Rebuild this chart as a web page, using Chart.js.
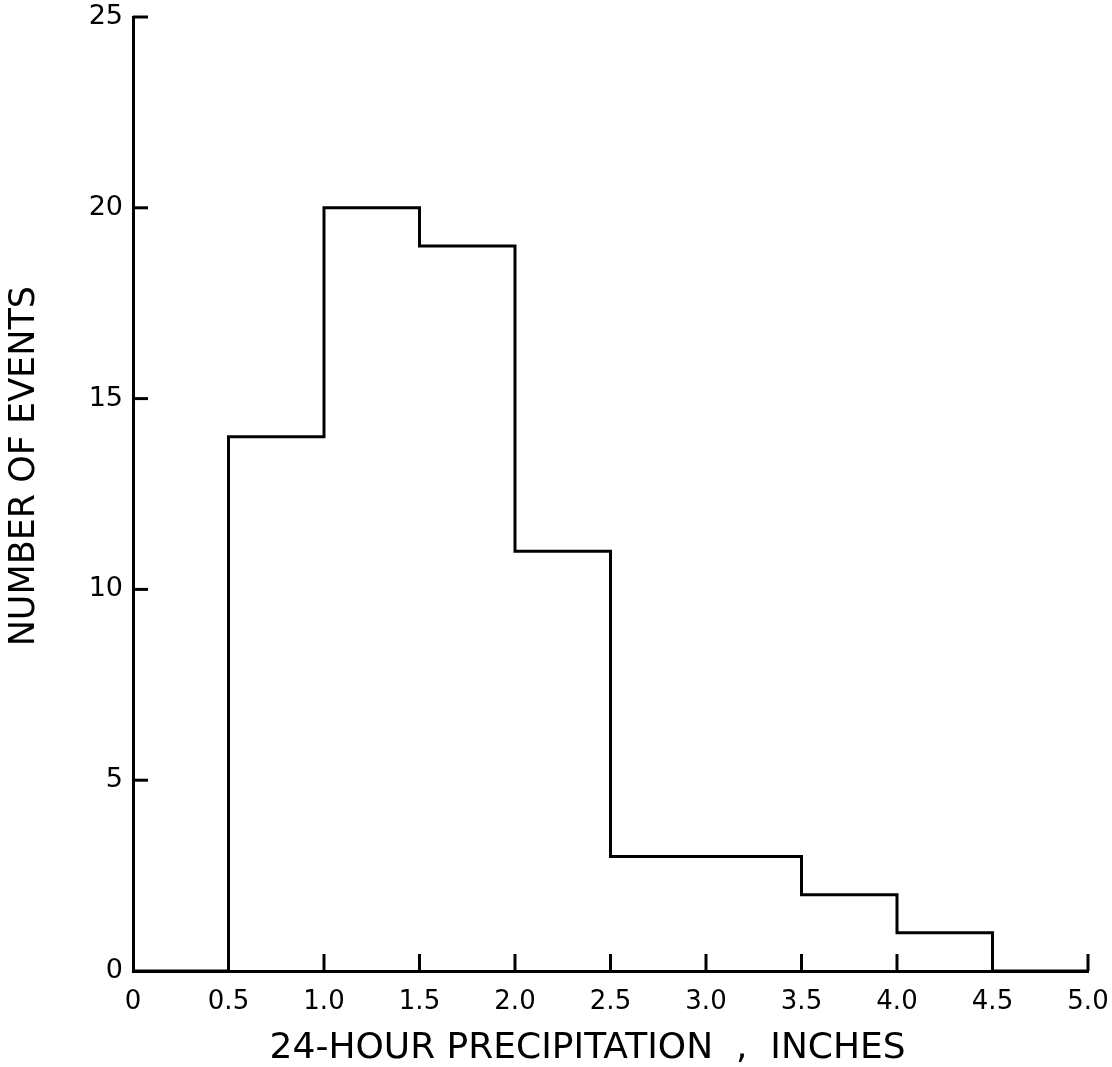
<!DOCTYPE html>
<html>
<head>
<meta charset="utf-8">
<script src="https://cdn.jsdelivr.net/npm/chart.js@4/dist/chart.umd.min.js"></script>
<style>
html,body{margin:0;padding:0;background:#fff;}
#wrap{width:1112px;height:1067px;}
</style>
</head>
<body>
<div id="wrap"><canvas id="c" width="1112" height="1067"></canvas></div>
<script>
// Bin left edges (inches) and counts of events
const binEdges = [0, 0.5, 1.0, 1.5, 2.0, 2.5, 3.0, 3.5, 4.0, 4.5];
const binEnd = 5.0;
const eventCounts = [0, 14, 20, 19, 11, 3, 3, 2, 1, 0];
const xTickValues = [0, 0.5, 1.0, 1.5, 2.0, 2.5, 3.0, 3.5, 4.0, 4.5, 5.0];
const xTickLabels = ['0', '0.5', '1.0', '1.5', '2.0', '2.5', '3.0', '3.5', '4.0', '4.5', '5.0'];
const yTickValues = [0, 5, 10, 15, 20, 25];
const yTickLabels = ['0', '5', '10', '15', '20', '25'];

const stepPoints = binEdges.map((e, i) => ({x: e, y: eventCounts[i]}));
stepPoints.push({x: binEnd, y: 0});

const FONT = '"DejaVu Sans", "Liberation Sans", sans-serif';

const inwardTicks = {
  id: 'inwardTicks',
  afterDatasetsDraw(chart) {
    const ctx = chart.ctx;
    const xs = chart.scales.x, ys = chart.scales.y;
    ctx.save();
    ctx.strokeStyle = '#000';
    ctx.lineWidth = 3;
    yTickValues.forEach(v => {
      if (v === 0) return;
      const py = ys.getPixelForValue(v);
      ctx.beginPath();
      ctx.moveTo(xs.left, py);
      ctx.lineTo(xs.left + 15, py);
      ctx.stroke();
    });
    xTickValues.forEach(v => {
      if (v === 0) return;
      const px = xs.getPixelForValue(v);
      ctx.beginPath();
      ctx.moveTo(px, ys.bottom);
      ctx.lineTo(px, ys.bottom - 17);
      ctx.stroke();
    });
    ctx.restore();
  }
};

new Chart(document.getElementById('c'), {
  type: 'line',
  data: {
    datasets: [{
      data: stepPoints,
      stepped: 'before',
      borderColor: '#000',
      borderWidth: 3,
      pointRadius: 0,
      fill: false
    }]
  },
  options: {
    responsive: false,
    animation: false,
    layout: {padding: {top: 17, right: 24, left: 0, bottom: 0}},
    plugins: {legend: {display: false}, tooltip: {enabled: false}},
    scales: {
      x: {
        type: 'linear',
        min: 0, max: 5,
        afterFit(s) { s.height = 96; s.paddingLeft = 0; s.paddingRight = 0; },
        afterBuildTicks(s) { s.ticks = xTickValues.map(v => ({value: v})); },
        grid: {display: false, drawTicks: false},
        border: {display: true, color: '#000', width: 3},
        ticks: {
          color: '#000',
          padding: 16,
          font: {family: FONT, size: 26},
          maxRotation: 0,
          autoSkip: false,
          callback: (v) => xTickLabels[xTickValues.indexOf(v)]
        },
        title: {
          display: true,
          text: '24-HOUR PRECIPITATION  ,  INCHES    ',
          color: '#000',
          font: {family: FONT, size: 36},
          padding: {top: 4, bottom: -3}
        }
      },
      y: {
        type: 'linear',
        min: 0, max: 25,
        afterFit(s) { s.width = 133; s.paddingTop = 0; s.paddingBottom = 0; },
        afterBuildTicks(s) { s.ticks = yTickValues.map(v => ({value: v})); },
        grid: {display: false, drawTicks: false},
        border: {display: true, color: '#000', width: 3},
        ticks: {
          color: '#000',
          padding: 10,
          font: {family: FONT, size: 27},
          autoSkip: false,
          callback: (v) => yTickLabels[yTickValues.indexOf(v)]
        },
        title: {
          display: true,
          text: '     NUMBER OF EVENTS',
          color: '#000',
          font: {family: FONT, size: 35},
          padding: {bottom: 0}
        }
      }
    }
  },
  plugins: [inwardTicks]
});
</script>
</body>
</html>
